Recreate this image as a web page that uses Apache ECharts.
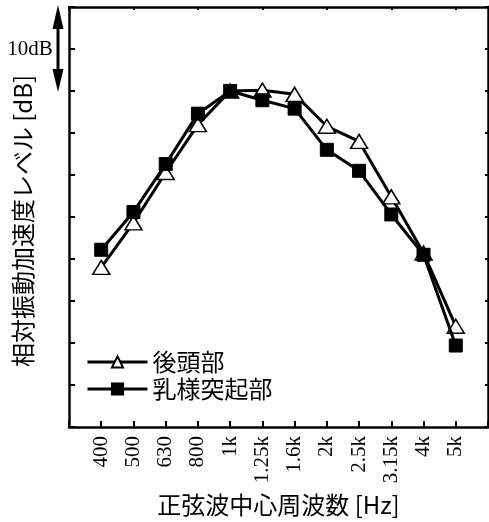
<!DOCTYPE html>
<html><head><meta charset="utf-8">
<script src="https://cdn.jsdelivr.net/npm/echarts@6/dist/echarts.min.js"></script>
<style>html,body{margin:0;padding:0;background:#fff}#c{width:489px;height:522px}</style>
</head><body><div id="c"></div>
<script>
const categories = ['400','500','630','800','1k','1.25k','1.6k','2k','2.5k','3.15k','4k','5k'];
const occipital = [-21.0,-15.7,-9.7,-4.0,0,0.1,-0.4,-4.2,-6.0,-12.6,-19.3,-28.0];
const mastoid = [-18.9,-14.4,-8.7,-2.7,0,-1.1,-2.1,-7.0,-9.5,-14.7,-19.5,-30.3];
const seriesNames = ['後頭部','乳様突起部'];
const yMin = -40, yMax = 10, yStep = 5;
const scaleTop = 10, scaleBottom = 0, scaleLabel = '10dB';

const axisCats = [''].concat(categories, ['']);
const pairs = arr => arr.map((v,i)=>[categories[i], v]);
const chart = echarts.init(document.getElementById('c'), null, {renderer:'canvas'});
const black = '#000';
const cjk = '"Noto Sans CJK JP","Noto Sans",sans-serif';
const serif = '"Liberation Serif","DejaVu Serif",serif';
chart.setOption({
  animation:false,
  backgroundColor:'#fff',
  grid:{left:69, top:7, width:419, height:420, containLabel:false},
  legend:{
    orient:'vertical', left:81, top:345, itemWidth:60, itemHeight:14, itemGap:3,
    textStyle:{fontFamily:cjk, fontSize:24, color:black, lineHeight:24},
    lineStyle:{width:3, color:black},
    data:seriesNames
  },
  xAxis:[{
    type:'category', data:axisCats, boundaryGap:false,
    axisLine:{onZero:false, lineStyle:{color:black,width:2.5}},
    axisTick:{inside:true,length:6,lineStyle:{color:black,width:2}},
    axisLabel:{rotate:90, fontFamily:serif, fontSize:21, color:black, margin:9, interval:0},
    name:'正弦波中心周波数 [Hz]', nameLocation:'middle', nameGap:66,
    nameTextStyle:{fontFamily:cjk, fontSize:24, color:black},
    splitLine:{show:false}
  },{
    type:'category', data:axisCats, boundaryGap:false, position:'top',
    axisLine:{onZero:false, lineStyle:{color:black,width:2.5}},
    axisTick:{inside:true,length:3,lineStyle:{color:black,width:2}},
    axisLabel:{show:false}, splitLine:{show:false}
  }],
  yAxis:[{
    type:'value', min:yMin, max:yMax, interval:yStep,
    axisLine:{show:true,onZero:false,lineStyle:{color:black,width:2.5}},
    axisTick:{show:true,inside:true,length:6,lineStyle:{color:black,width:2}},
    axisLabel:{show:false}, splitLine:{show:false},
    name:'相対振動加速度レベル [dB]', nameLocation:'middle', nameGap:34, nameRotate:90,
    nameTextStyle:{fontFamily:cjk, fontSize:24, color:black, padding:[0,0,0,-8]}
  },{
    type:'value', min:yMin, max:yMax, interval:yStep, position:'right',
    axisLine:{show:true,onZero:false,lineStyle:{color:black,width:2.5}},
    axisTick:{show:true,inside:true,length:3,lineStyle:{color:black,width:2}},
    axisLabel:{show:false}, splitLine:{show:false}
  }],
  series:[{
    name:seriesNames[0], type:'line', data:pairs(occipital),
    symbol:'triangle', symbolSize:[17,14],
    lineStyle:{color:black,width:3},
    itemStyle:{color:'#fff', borderColor:black, borderWidth:1.5},
    z:2
  },{
    name:seriesNames[1], type:'line', data:pairs(mastoid),
    symbol:'rect', symbolSize:13,
    lineStyle:{color:black,width:3},
    itemStyle:{color:black, borderColor:black, borderWidth:1},
    z:3
  }]
});
const yT = chart.convertToPixel({yAxisIndex:0}, scaleTop);
const yB = chart.convertToPixel({yAxisIndex:0}, scaleBottom);
const ax = 58, hw = 5.5, hl = 22;
chart.setOption({graphic:[
  {type:'rect', shape:{x:ax-1.5, y:yT+hl-2, width:3, height:(yB-yT)-2*hl+4}, style:{fill:black}},
  {type:'polygon', shape:{points:[[ax,yT-2],[ax-hw,yT+hl],[ax+hw,yT+hl]]}, style:{fill:black}},
  {type:'polygon', shape:{points:[[ax,yB+1],[ax-hw,yB-hl],[ax+hw,yB-hl]]}, style:{fill:black}},
  {type:'text', x:30, y:(yT+yB)/2, style:{text:scaleLabel, font:'21px "Liberation Serif", serif', fill:black, align:'center', verticalAlign:'middle'}}
]});
</script></body></html>
